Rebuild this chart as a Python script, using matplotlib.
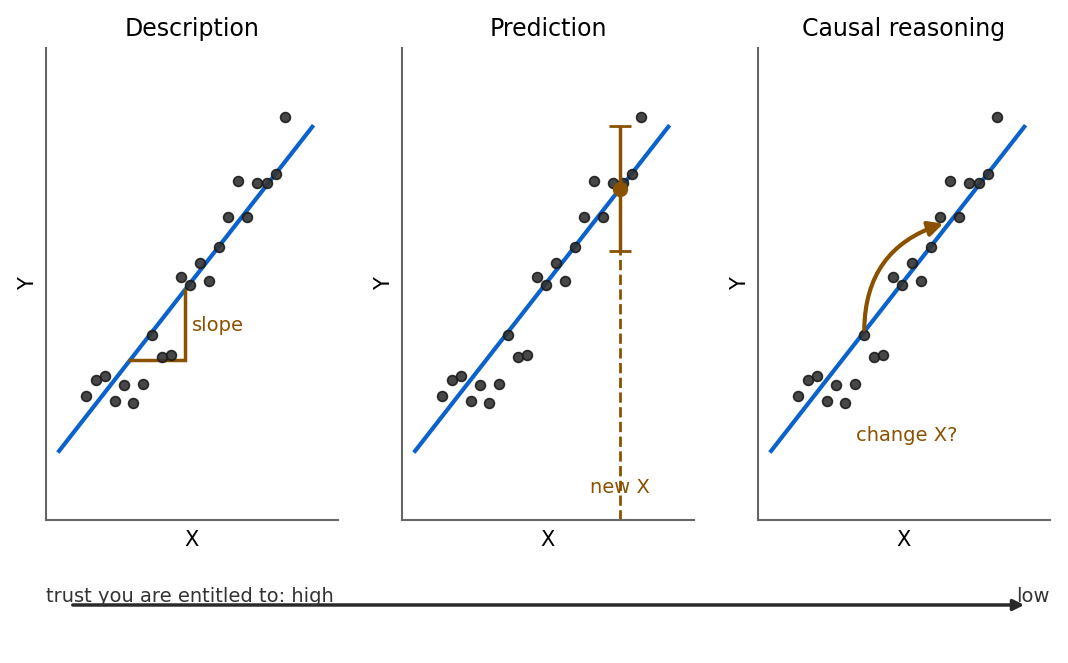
import matplotlib
matplotlib.use('Agg')
import matplotlib.pyplot as plt
import numpy as np

plt.rcParams['font.family'] = ['DejaVu Sans']

# 数据（三幅图共用同一组散点）
x = np.array([8.18, 6.59, 7.24, 7.56, 7.89, 6.24, 6.89, 5.93, 5.28, 4.63, 4.94,
              5.59, 3.64, 3.98, 4.29, 1.72, 2.03, 2.68, 3.33, 1.38, 2.37, 2.99])
y = np.array([8.53, 7.18, 7.14, 7.14, 7.33, 6.43, 6.42, 5.78, 5.44, 5.15, 4.97,
              5.06, 3.92, 3.45, 3.50, 2.97, 3.05, 2.86, 2.88, 2.63, 2.52, 2.48])
titles = ['Description', 'Prediction', 'Causal reasoning']
line_x = np.array([0.45, 9.12])
line_slope = 0.792
line_intercept = 1.107
slope_x = [2.88, 4.75]
new_x = 7.47
pred_err = 1.33
cause_from = (3.64, 3.92)
cause_to = (6.35, 6.28)

BLUE = '#0b62cc'
BROWN = '#8a5200'

fit = lambda v: line_slope * v + line_intercept

fig = plt.figure(figsize=(10.68, 6.63), dpi=100)
lefts = [46 / 1068, 402 / 1068, 758 / 1068]
axes = [fig.add_axes([l, 0.2157, 0.2734, 0.7119]) for l in lefts]

for ax, title in zip(axes, titles):
    ax.plot(line_x, fit(line_x), color=BLUE, lw=3, zorder=2)
    ax.scatter(x, y, s=50, color='#333333', edgecolor='#1a1a1a', linewidth=1.2,
               alpha=0.9, zorder=3)
    ax.set_xlim(0, 10)
    ax.set_ylim(0, 10)
    ax.set_xticks([])
    ax.set_yticks([])
    for s in ['top', 'right']:
        ax.spines[s].set_visible(False)
    for s in ['left', 'bottom']:
        ax.spines[s].set_color('#666666')
        ax.spines[s].set_linewidth(1.5)
    ax.set_xlabel('X', fontsize=15, labelpad=7)
    ax.set_ylabel('Y', fontsize=15, labelpad=6)
    ax.set_title(title, fontsize=17, pad=9)

# 描述：斜率三角
ax = axes[0]
x0, x1 = slope_x
ax.plot([x0, x1, x1], [fit(x0), fit(x0), fit(x1)], color=BROWN, lw=2.5,
        solid_joinstyle='miter', zorder=2.5)
ax.text(x1 + 0.25, (fit(x0) + fit(x1)) / 2, 'slope', color=BROWN,
        fontsize=14, va='center', ha='left')

# 预测：新的 X 与区间
ax = axes[1]
yp = fit(new_x)
ax.plot([new_x, new_x], [0, yp - pred_err], color=BROWN, lw=2, ls='--', zorder=2)
ax.errorbar([new_x], [yp], yerr=pred_err, fmt='o', color=BROWN, ms=10,
            lw=2.5, capsize=8, capthick=2, zorder=4)
ax.text(new_x, 0.68, 'new X', color=BROWN, fontsize=14, ha='center', va='center')

# 因果：改变 X？
ax = axes[2]
ax.annotate('', xy=cause_to, xytext=cause_from,
            arrowprops=dict(arrowstyle='-|>', color=BROWN, lw=3,
                            mutation_scale=22, shrinkA=4, shrinkB=0,
                            connectionstyle='arc3,rad=-0.37'), zorder=4)
ax.text(5.1, 1.78, 'change X?', color=BROWN, fontsize=14, ha='center', va='center')

# 底部信任度箭头
fig.text(46 / 1068, 0.101, 'trust you are entitled to: high', fontsize=14,
         color='#333333', ha='left', va='center')
fig.text(1050 / 1068, 0.101, 'low', fontsize=14, color='#333333',
         ha='right', va='center')
fig.patches.append(matplotlib.patches.FancyArrowPatch(
    (70 / 1068, 0.0875), (1027 / 1068, 0.0875), transform=fig.transFigure,
    arrowstyle='-|>', mutation_scale=16, color='#2a2a2a', lw=2.5))

fig.savefig('out.png', dpi=100)
